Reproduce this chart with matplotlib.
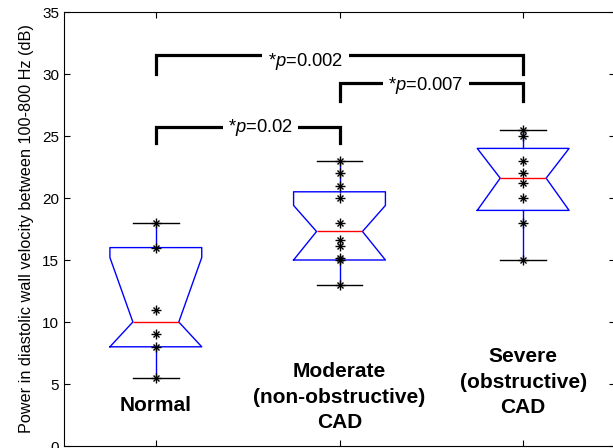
import matplotlib
matplotlib.use('Agg')
import matplotlib.pyplot as plt

plt.rcParams['font.family'] = ['Liberation Sans', 'DejaVu Sans']
plt.rcParams['mathtext.fontset'] = 'custom'
plt.rcParams['mathtext.rm'] = 'Liberation Sans'
plt.rcParams['mathtext.it'] = 'Liberation Sans:italic'

# groups and labels
groups = ['Normal', 'Moderate\n(non-obstructive)\nCAD', 'Severe\n(obstructive)\nCAD']
group_label_y = [3.3, 3.95, 5.15]

# individual measurements (dB)
normal_pts = [18, 16, 11, 9, 8, 5.5]
moderate_pts = [23, 22, 21, 20, 18, 16.6, 16.1, 15.2, 15, 13]
severe_pts = [25.5, 25, 23, 22, 21.2, 20, 18, 15]

# box statistics
q1 = [8, 15, 19]
med = [10, 17.3, 21.6]
q3 = [16, 20.5, 24]
whislo = [5.5, 13, 15]
whishi = [18, 23, 25.5]
cilo = [8, 15, 19]
cihi = [15.2, 19.4, 24]

# significance brackets
pairs = [(1, 2), (2, 3), (1, 3)]
bar_top = [25.7, 29.25, 31.5]
bar_bottom = [24.4, 27.8, 30.0]
p_text = ['*$p$=0.02', '*$p$=0.007', '*$p$=0.002']
p_text_x = [1.57, 2.47, 1.815]
p_text_y = [25.3, 28.7, 30.65]

fig = plt.figure(figsize=(6.13, 4.48), dpi=100)
ax = fig.add_axes([64 / 613, 2 / 448, 551 / 613, 434 / 448])

stats = []
for i in range(3):
    stats.append(dict(q1=q1[i], med=med[i], q3=q3[i], whislo=whislo[i],
                      whishi=whishi[i], cilo=cilo[i], cihi=cihi[i], fliers=[]))

ax.bxp(stats, positions=[1, 2, 3], widths=0.5, capwidths=0.25,
       shownotches=True, showfliers=False,
       boxprops=dict(color='blue', linewidth=1),
       whiskerprops=dict(color='blue', linewidth=1, linestyle='-'),
       capprops=dict(color='black', linewidth=1),
       medianprops=dict(color='red', linewidth=1))

for i, pts in enumerate([normal_pts, moderate_pts, severe_pts]):
    xs = [i + 1] * len(pts)
    ax.plot(xs, pts, linestyle='none', marker='+', color='black', ms=7, mew=1)
    ax.plot(xs, pts, linestyle='none', marker='x', color='black', ms=5, mew=1)

for (a, b), yt, yb, txt, tx, ty in zip(pairs, bar_top, bar_bottom, p_text, p_text_x, p_text_y):
    ax.plot([a, a, b, b], [yb, yt, yt, yb], color='black', linewidth=2.3,
            solid_joinstyle='miter', zorder=3)
    ax.text(tx, ty, txt, ha='center', va='baseline', fontsize=13.2, zorder=4,
            bbox=dict(facecolor='white', edgecolor='none', pad=4))

for i, lab in enumerate(groups):
    ax.text(i + 1, group_label_y[i], lab, ha='center', va='center',
            fontsize=15, fontweight='bold', linespacing=1.42)

ax.set_xlim(0.5, 3.5)
ax.set_ylim(0, 35)
ax.set_xticks([1, 2, 3])
ax.set_xticklabels([])
ax.set_yticks(range(0, 36, 5))
ax.tick_params(direction='in', top=True, right=True, length=4, labelsize=11)
ax.set_ylabel('Power in diastolic wall velocity between 100-800 Hz (dB)', fontsize=11.7)
ax.yaxis.set_label_coords(-0.054, 0.5)

plt.savefig('out.png', dpi=100)
